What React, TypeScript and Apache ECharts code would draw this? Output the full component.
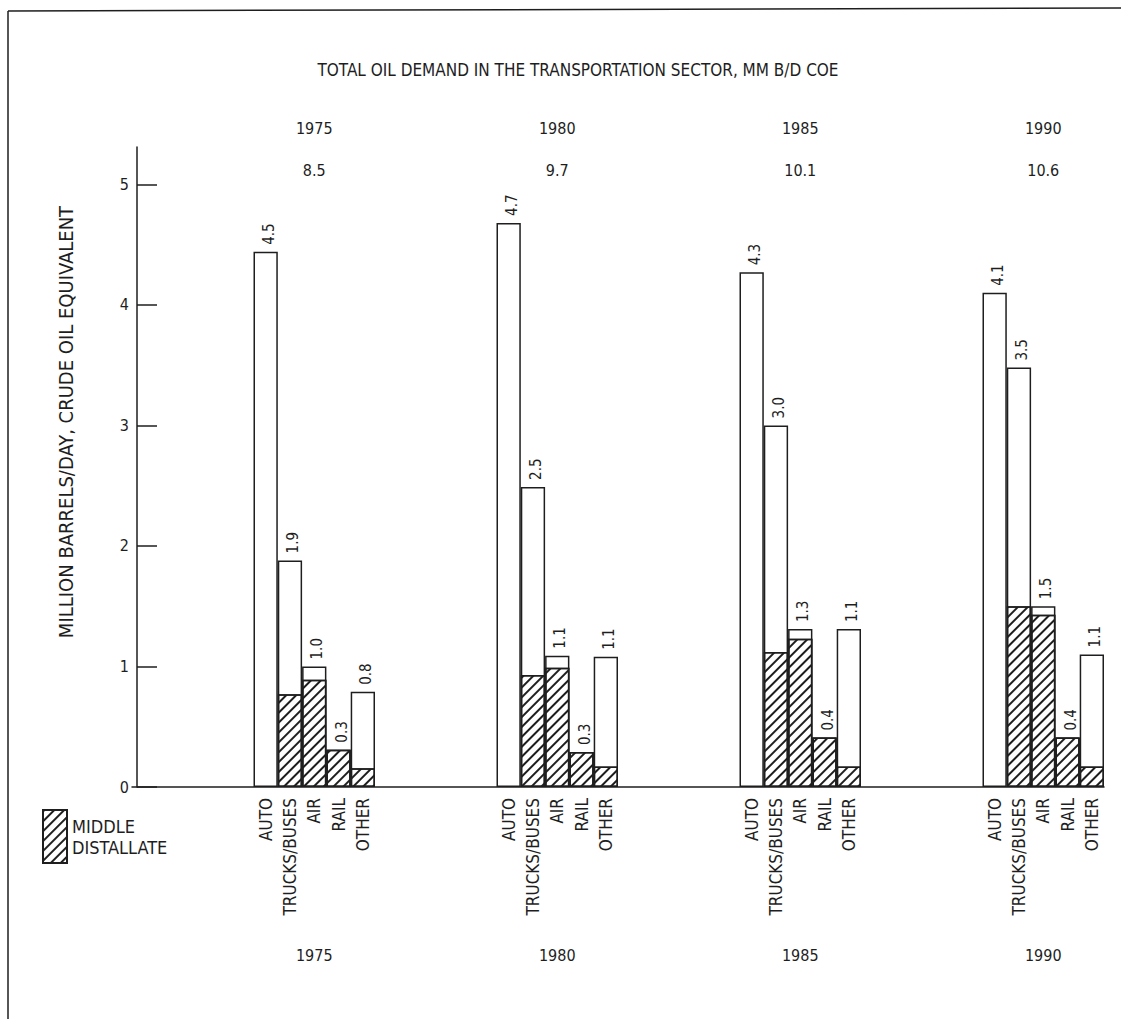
import React, { useEffect, useRef } from 'react';
import * as echarts from 'echarts';

const years = ['1975', '1980', '1985', '1990'];
const yearTotals = ['8.5', '9.7', '10.1', '10.6'];
const modes = ['AUTO', 'TRUCKS/BUSES', 'AIR', 'RAIL', 'OTHER'];

const total1975 = [4.44, 1.88, 1.0, 0.31, 0.79];
const total1980 = [4.68, 2.49, 1.09, 0.29, 1.08];
const total1985 = [4.27, 3.0, 1.31, 0.41, 1.31];
const total1990 = [4.1, 3.48, 1.5, 0.41, 1.1];

const middle1975 = [0, 0.77, 0.89, 0.31, 0.155];
const middle1980 = [0, 0.93, 0.99, 0.29, 0.17];
const middle1985 = [0, 1.12, 1.23, 0.41, 0.17];
const middle1990 = [0, 1.5, 1.43, 0.41, 0.17];

const label1975 = ['4.5', '1.9', '1.0', '0.3', '0.8'];
const label1980 = ['4.7', '2.5', '1.1', '0.3', '1.1'];
const label1985 = ['4.3', '3.0', '1.3', '0.4', '1.1'];
const label1990 = ['4.1', '3.5', '1.5', '0.4', '1.1'];

const yTicks = [0, 1, 2, 3, 4, 5];

const TITLE = 'TOTAL OIL DEMAND IN THE TRANSPORTATION SECTOR, MM B/D COE';
const Y_NAME = 'MILLION BARRELS/DAY, CRUDE OIL EQUIVALENT';
const LEGEND_NAME = 'MIDDLE DISTALLATE';

const FONT = '"DejaVu Sans Condensed", "Liberation Sans Narrow", "DejaVu Sans", sans-serif';
const INK = '#1e1e1e';

const LEAD = 5;
const GAP = 5;

const totals = [total1975, total1980, total1985, total1990];
const middles = [middle1975, middle1980, middle1985, middle1990];
const labels = [label1975, label1980, label1985, label1990];

function buildSlots<T>(groups: T[][], empty: T): T[] {
  const out: T[] = [];
  for (let i = 0; i < LEAD; i++) out.push(empty);
  groups.forEach((g, gi) => {
    g.forEach((v) => out.push(v));
    if (gi < groups.length - 1) for (let i = 0; i < GAP; i++) out.push(empty);
  });
  return out;
}

const categories = buildSlots(years.map(() => modes), '');
const totalSlots = buildSlots<number | null>(totals, null);
const middleSlots = buildSlots<number | null>(middles.map((m) => m.map((v) => (v > 0 ? v : null))), null);
const labelSlots = buildSlots(labels, '');

const hatch = {
  symbol: 'rect',
  symbolSize: 1,
  color: '#1e1e1e',
  backgroundColor: '#ffffff',
  dashArrayX: [1, 0],
  dashArrayY: [1.6, 4.4],
  rotation: -Math.PI / 4,
};

export default function App() {
  const ref = useRef<HTMLDivElement>(null);
  useEffect(() => {
    document.body.style.margin = '0';
    if (!ref.current) return;
    const chart = echarts.init(ref.current, null, { renderer: 'svg' });
    const option: any = {
      animation: false,
      backgroundColor: '#ffffff',
      textStyle: { fontFamily: FONT, color: INK },
      grid: { left: 132, top: 147, width: 972, height: 640, containLabel: false },
      legend: {
        data: [LEGEND_NAME],
        left: 42,
        top: 809,
        padding: 0,
        orient: 'vertical',
        icon: 'rect',
        itemWidth: 24,
        itemHeight: 53,
        selectedMode: false,
        formatter: () => 'MIDDLE\nDISTALLATE',
        textStyle: { fontFamily: FONT, fontSize: 18, lineHeight: 21, color: INK },
      },
      xAxis: {
        type: 'category',
        data: categories,
        axisLine: { show: true, lineStyle: { color: INK, width: 1.5 } },
        axisTick: { show: false },
        axisLabel: {
          interval: 0,
          rotate: 90,
          margin: 11,
          fontSize: 17,
          fontFamily: FONT,
          color: INK,
        },
        splitLine: { show: false },
      },
      yAxis: {
        type: 'value',
        min: 0,
        max: 5.31,
        offset: -5,
        axisLine: { show: true, lineStyle: { color: INK, width: 1.5 } },
        axisTick: { show: true, inside: true, length: 20, customValues: yTicks, lineStyle: { color: INK, width: 1.5 } },
        axisLabel: { customValues: yTicks, margin: 8, fontSize: 16, fontFamily: FONT, color: INK },
        splitLine: { show: false },
      },
      series: [
        {
          name: 'TOTAL',
          type: 'bar',
          data: totalSlots,
          barCategoryGap: '0%',
          barGap: '-100%',
          itemStyle: { color: '#ffffff', borderColor: INK, borderWidth: 1.5 },
          label: {
            show: true,
            position: 'top',
            rotate: 90,
            align: 'left',
            verticalAlign: 'middle',
            distance: 7,
            offset: [0, 3],
            fontSize: 15,
            fontFamily: FONT,
            color: INK,
            formatter: (p: any) => labelSlots[p.dataIndex],
          },
        },
        {
          name: LEGEND_NAME,
          type: 'bar',
          data: middleSlots,
          barCategoryGap: '0%',
          barGap: '-100%',
          itemStyle: { color: '#ffffff', borderColor: INK, borderWidth: 1.5, decal: hatch },
        },
      ],
    };
    chart.setOption(option);

    const graphics: any[] = [
      { type: 'line', shape: { x1: 8, y1: 11, x2: 1121, y2: 8 }, style: { stroke: INK, lineWidth: 1.5 } },
      { type: 'line', shape: { x1: 8, y1: 11, x2: 8, y2: 1019 }, style: { stroke: INK, lineWidth: 1.5 } },
      {
        type: 'text',
        x: 578,
        y: 70,
        style: { text: TITLE, fontFamily: FONT, fontSize: 17, fill: INK, align: 'center', verticalAlign: 'middle' },
      },
      {
        type: 'text',
        x: 66,
        y: 422,
        rotation: Math.PI / 2,
        style: { text: Y_NAME, fontFamily: FONT, fontSize: 20, fill: INK, align: 'center', verticalAlign: 'middle' },
      },
    ];
    years.forEach((yr, g) => {
      const idx = LEAD + g * (modes.length + GAP) + 2;
      const pt = chart.convertToPixel({ gridIndex: 0 }, [idx, 0]) as number[];
      const cx = pt[0];
      graphics.push(
        { type: 'text', x: cx, y: 128, style: { text: yr, fontFamily: FONT, fontSize: 16, fill: INK, align: 'center', verticalAlign: 'middle' } },
        { type: 'text', x: cx, y: 170, style: { text: yearTotals[g], fontFamily: FONT, fontSize: 16, fill: INK, align: 'center', verticalAlign: 'middle' } },
        { type: 'text', x: cx, y: 955, style: { text: yr, fontFamily: FONT, fontSize: 16, fill: INK, align: 'center', verticalAlign: 'middle' } }
      );
    });
    chart.setOption({ graphic: graphics });
    return () => chart.dispose();
  }, []);
  return <div ref={ref} style={{ width: 1121, height: 1019 }} />;
}
